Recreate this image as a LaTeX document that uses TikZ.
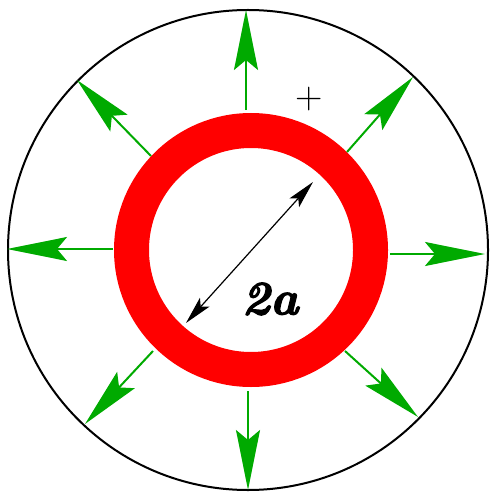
\documentclass[tikz,border=0pt]{standalone}
\usepackage{fontspec}
\setmainfont{Latin Modern Roman}
\newfontfamily\heavyit{lmroman10-bolditalic}[Extension=.otf, FakeBold=2.5]
\usetikzlibrary{arrows.meta}
\definecolor{fieldgreen}{RGB}{0,170,0}
\tikzset{
  fieldarrow/.style={draw=fieldgreen, line width=2pt, -{Stealth[length=60pt, width=24pt, inset=10pt, fill=fieldgreen]}},
  diamarrow/.style={draw=black, line width=1.2pt, {Stealth[length=28pt, width=13pt, inset=6pt]}-{Stealth[length=28pt, width=13pt, inset=6pt]}},
  ring/.style={draw=red, line width=35pt},
  outer/.style={draw=black, line width=2pt}
}
\begin{document}
\begin{tikzpicture}[x=1pt, y=-1pt]
\useasboundingbox (0,0) rectangle (489,494);
\draw[outer] (248,250) circle (240);
\draw[ring] (251,250) circle (119.5);
% field arrows
\coordinate (nS) at (246,110); \coordinate (nE) at (246,10);
\coordinate (sS) at (248,391); \coordinate (sE) at (248,490);
\coordinate (wS) at (113,249); \coordinate (wE) at (7,249);
\coordinate (eS) at (390,254); \coordinate (eE) at (485,254);
\coordinate (nwS) at (151,156); \coordinate (nwE) at (77,80);
\coordinate (neS) at (347,152); \coordinate (neE) at (413,77);
\coordinate (swS) at (153,351); \coordinate (swE) at (85,424);
\coordinate (seS) at (345,351); \coordinate (seE) at (418,417);
\foreach \d in {n,s,w,e,nw,ne,sw,se} {\draw[fieldarrow] (\d S) -- (\d E);}
% diameter
\coordinate (dA) at (186,323);
\coordinate (dB) at (313,182);
\draw[diamarrow] (dA) -- (dB);
\node (lab) at (270,299) {\fontsize{48}{52}\selectfont\heavyit 2a};
\node (plus) at (309,99.5) {\fontsize{38}{44}\selectfont +};
\end{tikzpicture}
\end{document}
